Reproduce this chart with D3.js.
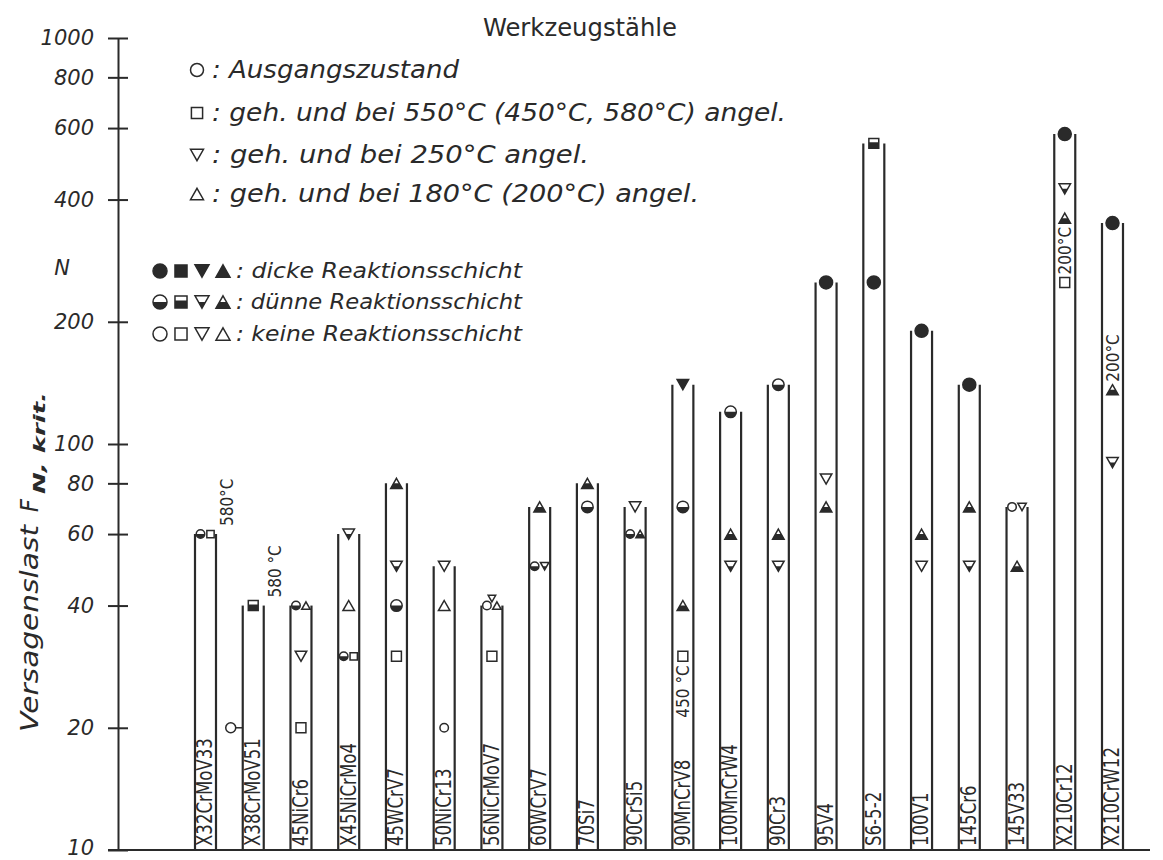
<!DOCTYPE html>
<html><head><meta charset="utf-8">
<script src="https://cdn.jsdelivr.net/npm/d3@7"></script>
<style>
body{margin:0;background:#fff;}
svg text{font-family:"DejaVu Sans Condensed","Liberation Sans Narrow","DejaVu Sans",sans-serif;fill:#2a2a2a;}
</style></head><body>
<svg id="c" width="1163" height="860"></svg>
<script>
// ---------------- data ----------------
const title = "Werkzeugstähle";
const categories = ["X32CrMoV33","X38CrMoV51","45NiCr6","X45NiCrMo4","45WCrV7","50NiCr13","56NiCrMoV7","60WCrV7","70Si7","90CrSi5","90MnCrV8","100MnCrW4","90Cr3","95V4","S6-5-2","100V1","145Cr6","145V33","X210Cr12","X210CrW12"];
const barTop = [60,40,40,60,80,50,40,70,80,70,140,120,140,250,550,190,140,70,580,350];
const yTicks = [10,20,40,60,80,100,200,400,600,800,1000];

// markers: c = Ausgangszustand (circle), s = 550°C (square), d = 250°C (down), u = 180°C (up)
const markerBar   = [0,0, 1,1, 2,2,2,2, 3,3,3,3, 4,4,4,4, 5,5,5, 6,6,6,6, 7,7,7, 8,8, 9,9,9, 10,10,10,10, 11,11,11, 12,12,12, 13,13,13, 14,14, 15,15,15, 16,16,16, 17,17,17, 18,18,18,18, 19,19,19];
const markerValue = [60,60, 40,20, 40,40,30,20, 60,40,30,30, 80,50,40,30, 50,40,20, 40,40,43,30, 70,50,50, 80,70, 70,60,60, 140,70,40,30, 120,60,50, 140,60,50, 250,82,70, 550,250, 190,60,50, 140,70,50, 70,70,50, 580,425,360,250, 350,136,90];
const markerShape = ["c","s", "s","c", "c","u","d","s", "d","u","c","s", "u","d","c","s", "d","u","c", "c","u","d","s", "u","c","d", "u","c", "d","c","u", "d","c","u","s", "c","u","d", "c","u","d", "c","d","u", "s","c", "c","u","d", "c","u","d", "c","d","u", "c","d","u","s", "c","u","d"];
const markerFill  = ["half","open", "half","open", "half","open","open","open", "half","open","half","open", "half","half","half","open", "open","open","open", "open","open","open","open", "half","half","half", "half","half", "open","half","half", "full","half","half","open", "half","half","half", "half","half","half", "full","open","half", "half","full", "full","half","open", "full","half","half", "open","open","half", "full","half","half","open", "full","half","half"];
const markerSide  = ["L","R", "C","OUT", "L","R","C","C", "C","C","L","R", "C","C","C","C", "C","C","Cs", "L","R","Ts","C", "C","L","R", "C","C", "C","L","R", "C","C","C","C", "C","C","C", "C","C","C", "C","C","C", "C","C", "C","C","C", "C","C","C", "L","R","C", "C","C","C","C", "C","C","C"];

// annotations (temperature notes)
const annotBar   = [0,1,10,18,19];
const annotText  = ["580°C","580 °C","450 °C","200°C","200°C"];
const annotValue = [60,40,30,250,136];
const annotPlace = ["outside","outside","below","above","above"];

// legends
const legendShapes = ["c","s","d","u"];
const legendShapeText = [": Ausgangszustand", ": geh. und bei 550°C (450°C, 580°C) angel.", ": geh. und bei 250°C angel.", ": geh. und bei 180°C (200°C) angel."];
const legendFills = ["full","half","open"];
const legendFillText = [": dicke Reaktionsschicht", ": dünne Reaktionsschicht", ": keine Reaktionsschicht"];
const yLabelMain = "Versagenslast";
const yLabelSym = "F";
const yLabelSub = "N, krit.";
const unitLabel = "N";

// ---------------- drawing ----------------
const ink = "#2a2a2a";
const svg = d3.select("#c");
const y = d3.scaleLog().domain([10,1000]).range([850,38]);
const x = d3.scalePoint().domain(categories).range([205.5,1112.5]);
const half = 10.5;
const axisX = 118;

// axis
const ax = svg.append("g").attr("transform",`translate(${axisX},0)`)
  .call(d3.axisLeft(y).tickValues(yTicks).tickFormat(d3.format("d")).tickSize(10).tickPadding(14).tickSizeOuter(0));
ax.select(".domain").attr("stroke",ink).attr("stroke-width",2);
ax.selectAll(".tick line").attr("x1",10).attr("x2",-10).attr("stroke",ink).attr("stroke-width",2);
ax.selectAll(".tick text").attr("font-size",21).attr("font-style","italic").attr("fill",ink)
  .style("font-family",'"DejaVu Sans","Liberation Sans",sans-serif')
  .attr("y",d=>d===10?-2:0);

// baseline
svg.append("line").attr("x1",108).attr("x2",1150).attr("y1",y(10)).attr("y2",y(10))
  .attr("stroke",ink).attr("stroke-width",2);

// unit N
svg.append("text").attr("x",62).attr("y",275).attr("text-anchor","middle").attr("font-size",21)
  .attr("font-style","italic").style("font-family",'"DejaVu Sans",sans-serif').text(unitLabel);

// y label
svg.append("text").attr("transform","translate(38,732) rotate(-90)")
  .attr("font-size",25).attr("font-style","italic")
  .attr("textLength",207).attr("lengthAdjust","spacingAndGlyphs").text(yLabelMain);
svg.append("text").attr("transform","translate(38,512) rotate(-90)")
  .attr("font-size",25).attr("font-style","italic").text(yLabelSym);
svg.append("text").attr("transform","translate(45,494) rotate(-90)")
  .attr("font-size",15).attr("font-style","italic").attr("font-weight",600)
  .attr("textLength",102).attr("lengthAdjust","spacingAndGlyphs").text(yLabelSub);

// title
svg.append("text").attr("x",580).attr("y",36).attr("text-anchor","middle").attr("font-size",25)
  .attr("textLength",194).attr("lengthAdjust","spacingAndGlyphs").text(title);

// bars
const bars = svg.append("g");
categories.forEach((c,i)=>{
  const cx = x(c);
  [-half, half].forEach(dx=>{
    bars.append("line").attr("x1",cx+dx).attr("x2",cx+dx).attr("y1",y(barTop[i])).attr("y2",y(10))
      .attr("stroke",ink).attr("stroke-width",2.2);
  });
  bars.append("text").attr("transform",`translate(${cx},${y(10)-4}) rotate(-90) scale(0.9,1)`)
    .attr("dominant-baseline","central").attr("font-size",20.5).text(c);
});

// marker shapes
function shapePath(shape,s){
  const r=s/2;
  if(shape==="c") return `M${r},0A${r},${r} 0 1 1 ${-r},0A${r},${r} 0 1 1 ${r},0Z`;
  if(shape==="s"){const a=s*0.43; return `M${-a},${-a}H${a}V${a}H${-a}Z`;}
  const h=s*0.88;
  if(shape==="u") return `M0,${-h/2}L${r},${h/2}L${-r},${h/2}Z`;
  return `M0,${h/2}L${r},${-h/2}L${-r},${-h/2}Z`;
}
let clipId=0;
function drawMarker(g,shape,fill,s){
  const p = shapePath(shape,s);
  g.append("path").attr("d",p).attr("fill",fill==="full"?ink:"#fff").attr("stroke",ink).attr("stroke-width",1.5);
  if(fill==="half"){
    const id="hc"+(clipId++);
    const top = shape==="s" ? -s*0.1 : 0;
    g.append("clipPath").attr("id",id).append("rect").attr("x",-s).attr("y",top).attr("width",2*s).attr("height",s);
    g.append("path").attr("d",p).attr("fill",ink).attr("clip-path",`url(#${id})`);
  }
}

const mk = svg.append("g");
markerBar.forEach((b,k)=>{
  const side = markerSide[k];
  let cx = x(categories[b]), cy = y(markerValue[k]), s = 11.5;
  if(markerShape[k]==="c" && markerFill[k]==="full") s = 13;
  if(side==="L"){cx -= 5; s = 8.5;}
  if(side==="R"){cx += 5; s = 8.5;}
  if(side==="Cs"){s = 8.5;}
  if(side==="Ts"){s = 7.5; cy = y(40) - 7;}
  if(side==="OUT"){
    cx = x(categories[b]) - half - 12;
    mk.append("line").attr("x1",cx+5).attr("x2",x(categories[b])-half).attr("y1",cy).attr("y2",cy)
      .attr("stroke",ink).attr("stroke-width",1.5);
    s = 10;
  }
  const g = mk.append("g").attr("transform",`translate(${cx},${cy})`);
  drawMarker(g,markerShape[k],markerFill[k],s);
});

// annotations
annotBar.forEach((b,k)=>{
  const cx = x(categories[b]);
  const vy = y(annotValue[k]);
  let tx, ty, anchor;
  if(annotPlace[k]==="outside"){tx = cx + half + 11; ty = vy - 8; anchor="start";}
  else if(annotPlace[k]==="below"){tx = cx; ty = vy + 9; anchor="end";}
  else {tx = cx; ty = vy - 8; anchor="start";}
  svg.append("text").attr("transform",`translate(${tx},${ty}) rotate(-90)`)
    .attr("text-anchor",anchor).attr("dominant-baseline","central").attr("font-size",17).text(annotText[k]);
});

// legend 1 (treatments)
const l1y = [70,113,155,194];
const l1len = [247,574,377,487];
legendShapes.forEach((sh,i)=>{
  const g = svg.append("g").attr("transform",`translate(197,${l1y[i]})`);
  drawMarker(g,sh,"open",13);
  svg.append("text").attr("x",212).attr("y",l1y[i]+8).attr("font-size",24).attr("font-style","italic")
    .attr("textLength",l1len[i]).attr("lengthAdjust","spacingAndGlyphs").text(legendShapeText[i]);
});

// legend 2 (reaction layer)
const l2y = [271,302,334];
const l2x = [160,181,202,223];
legendFills.forEach((f,i)=>{
  legendShapes.forEach((sh,j)=>{
    const g = svg.append("g").attr("transform",`translate(${l2x[j]},${l2y[i]})`);
    drawMarker(g,sh,f,14);
  });
  svg.append("text").attr("x",236).attr("y",l2y[i]+7).attr("font-size",21).attr("font-style","italic")
    .attr("textLength",286).attr("lengthAdjust","spacingAndGlyphs").text(legendFillText[i]);
});
</script>
</body></html>
